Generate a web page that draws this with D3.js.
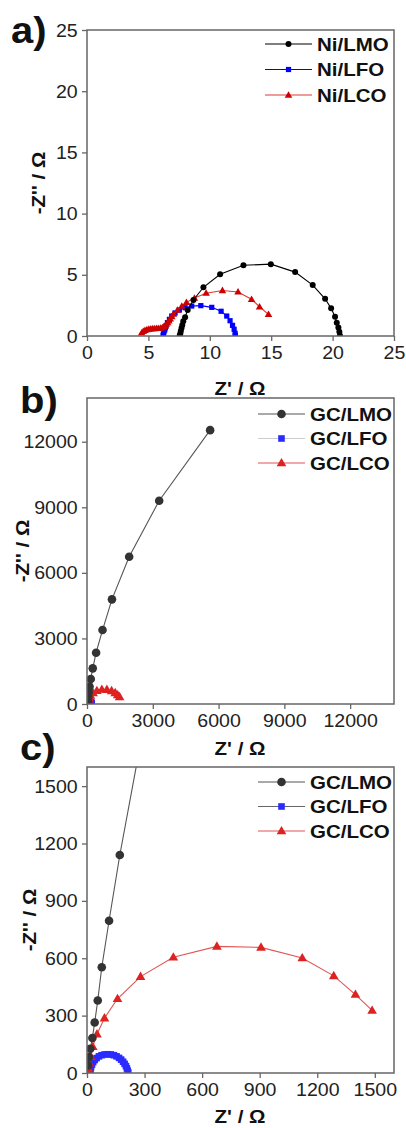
<!DOCTYPE html>
<html><head><meta charset="utf-8">
<script src="https://cdn.jsdelivr.net/npm/d3@7"></script>
<style>body{margin:0;background:#fff}svg{display:block}text{font-family:"Liberation Sans",Arial,sans-serif}</style>
</head><body>
<svg id="c" width="406" height="1128"></svg>
<script>
// ---- data ----
const niLMO = [[7.55,0.05],[7.6,0.2],[7.64,0.4],[7.7,0.65],[7.76,0.9],[7.84,1.2],[7.99,1.53],[8.2,2.12],[8.67,2.94],[9.48,3.98],[10.84,5.04],[12.74,5.78],[14.97,5.87],[16.95,5.22],[18.38,4.16],[19.39,3.04],[19.88,2.26],[20.2,1.58],[20.34,1.09],[20.47,0.7],[20.55,0.35],[20.6,0.05]];
const niLFO = [[6.2,0.05],[6.22,0.16],[6.27,0.33],[6.33,0.49],[6.38,0.66],[6.44,0.82],[6.55,1.09],[6.71,1.36],[6.9,1.63],[7.17,1.88],[7.52,2.12],[7.99,2.31],[8.53,2.45],[9.27,2.48],[10.16,2.34],[10.92,2.02],[11.38,1.63],[11.65,1.25],[11.85,0.87],[11.98,0.55],[12.06,0.22],[12.08,0.05]];
const niLCO = [[4.45,0.25],[4.58,0.38],[4.72,0.46],[4.88,0.52],[5.04,0.56],[5.2,0.58],[5.36,0.6],[5.52,0.61],[5.68,0.62],[5.84,0.63],[6.0,0.65],[6.14,0.68],[6.26,0.74],[6.36,0.84],[6.46,0.97],[6.56,1.1],[6.66,1.24],[6.78,1.4],[6.9,1.58],[7.04,1.8],[7.36,2.12],[7.72,2.45],[8.1,2.75],[8.75,3.1],[9.7,3.5],[11.03,3.72],[12.3,3.6],[13.4,3.0],[14.05,2.39],[14.78,1.77]];
const gcLMO = [[5,40],[10,83],[17,127],[28,183],[40,264],[56,379],[77,553],[115,796],[171,1140],[262,1631],[415,2348],[708,3384],[1138,4787],[1923,6738],[3292,9299],[5615,12530]];
const gcLFO = [[16,5],[18,18],[21,30],[26,44],[32,57],[40,68],[50,78],[62,87],[76,93],[92,97],[108,98],[124,97],[140,93],[154,87],[167,79],[178,70],[188,59],[196,48],[203,36],[208,24],[212,12],[215,3]];
const gcLCO = [[3,5],[5,15],[7,25],[12,51],[21,85],[30,138],[52,203],[91,287],[159,388],[279,504],[450,605],[677,662],[907,657],[1122,601],[1286,508],[1399,410],[1486,327]];
const ticksA = [0,5,10,15,20,25];
const ticksB = [0,3000,6000,9000,12000];
const ticksC = [0,300,600,900,1200,1500];
const legendA = ["Ni/LMO","Ni/LFO","Ni/LCO"];
const legendBC = ["GC/LMO","GC/LFO","GC/LCO"];
const domainA = [0,25], domainB = [0,14000], domainC = [0,1600];

// ---- drawing ----
const svg = d3.select("#c");
const SX = 1.08, SXT = 1.03;
const L = 87, R = 394;

function txt(g, x, y, s, opt) {
  return g.append("text").attr("transform", `translate(${x},${y})${opt.rot?" rotate(-90)":""} scale(${SX},1)`)
    .attr("text-anchor", opt.anchor || "start").attr("font-size", opt.size).attr("font-weight", opt.bold?"bold":"normal")
    .attr("fill", "#111").text(s);
}

function marker(g, type, x, y, size, fill) {
  if (type === "circle") g.append("circle").attr("cx", x).attr("cy", y).attr("r", size).attr("fill", fill);
  else if (type === "square") g.append("rect").attr("x", x-size).attr("y", y-size).attr("width", 2*size).attr("height", 2*size).attr("fill", fill);
  else g.append("path").attr("d", d3.symbol(d3.symbolTriangle, size*size*1.9)()).attr("transform", `translate(${x},${y+0.5})`).attr("fill", fill);
}

let clipId = 0;
function panel(cfg) {
  const top = cfg.top, bot = cfg.top + 306;
  const x = d3.scaleLinear().domain(cfg.domain).range([L, R]);
  const y = d3.scaleLinear().domain(cfg.domain).range([bot, top]);
  const g = svg.append("g");
  const id = "clip" + (clipId++);
  svg.append("clipPath").attr("id", id).append("rect").attr("x", L).attr("y", top).attr("width", R-L).attr("height", bot-top);
  const data = g.append("g").attr("clip-path", `url(#${id})`);
  const line = d3.line().x(d => x(d[0])).y(d => y(d[1]));
  cfg.series.forEach(s => {
    data.append("path").datum(s.data).attr("d", line).attr("fill", "none").attr("stroke", s.line).attr("stroke-width", 1.1);
    s.data.forEach(d => marker(data, s.type, x(d[0]), y(d[1]), s.size, s.fill));
  });
  const fmt = d3.format("d");
  const xa = g.append("g").attr("transform", `translate(0,${bot})`)
    .call(d3.axisBottom(x).tickValues(cfg.ticks).tickFormat(fmt).tickSize(5).tickPadding(5).tickSizeOuter(0));
  const ya = g.append("g").attr("transform", `translate(${L},0)`)
    .call(d3.axisLeft(y).tickValues(cfg.ticks).tickFormat(fmt).tickSize(5).tickPadding(4).tickSizeOuter(0));
  [xa, ya].forEach(a => {
    a.attr("font-size", 19).attr("font-family", '"Liberation Sans",Arial,sans-serif');
    a.select(".domain").remove();
    a.selectAll("line").attr("stroke", "#666").attr("stroke-width", 1.3);
    a.selectAll("text").attr("font-size", 19).attr("fill", "#222").attr("transform", `scale(${SXT},1)`);
  });
  g.append("rect").attr("x", L).attr("y", top).attr("width", R-L).attr("height", bot-top)
    .attr("fill", "none").attr("stroke", "#666").attr("stroke-width", 1.5);
  txt(g, 240, cfg.xtY, "Z' / Ω", {size: 19, bold: true, anchor: "middle"});
  txt(g, cfg.ytX, (top+bot)/2, "-Z'' / Ω", {size: 19, bold: true, anchor: "middle", rot: true});
  txt(g, cfg.lab[1], cfg.lab[2], cfg.lab[0], {size: 37, bold: true});
  cfg.legend.forEach((name, i) => {
    const s = cfg.series[cfg.legendOrder[i]];
    const ry = cfg.legY + i * cfg.legDy;
    g.append("line").attr("x1", cfg.legX).attr("x2", cfg.legX + 47).attr("y1", ry).attr("y2", ry)
      .attr("stroke", s.legLine || s.line).attr("stroke-width", 1.2);
    marker(g, s.type, cfg.legX + 23.5, ry, s.size, s.fill);
    txt(g, cfg.legX + 52, ry + 6.7, name, {size: 19, bold: true});
  });
}

panel({top: 30, domain: domainA, ticks: ticksA, xtY: 395, ytX: 45, lab: ["a)", 11, 43],
  series: [
    {data: niLFO, type: "square", size: 2.6, fill: "#0000ff", line: "#0000ff"},
    {data: niLCO, type: "triangle", size: 3.6, fill: "#cc0000", line: "#e03838"},
    {data: niLMO, type: "circle", size: 3, fill: "#000", line: "#000"}
  ], legend: legendA, legendOrder: [2,0,1], legX: 265, legY: 44, legDy: 25.5});

panel({top: 398, domain: domainB, ticks: ticksB, xtY: 755, ytX: 29, lab: ["b)", 20, 413],
  series: [
    {data: gcLFO, type: "square", size: 3.3, fill: "#2b2bff", line: "#cccccc"},
    {data: gcLCO, type: "triangle", size: 4.6, fill: "#dd2222", line: "#e05555"},
    {data: gcLMO, type: "circle", size: 4.3, fill: "#333", line: "#555"}
  ], legend: legendBC, legendOrder: [2,0,1], legX: 258, legY: 414, legDy: 24.5});

panel({top: 767, domain: domainC, ticks: ticksC, xtY: 1123, ytX: 36, lab: ["c)", 20, 760],
  series: [
    {data: gcLFO, type: "square", size: 3.3, fill: "#2b2bff", line: "#666666"},
    {data: gcLCO, type: "triangle", size: 4.6, fill: "#dd2222", line: "#e05555"},
    {data: gcLMO, type: "circle", size: 4.3, fill: "#333", line: "#555"}
  ], legend: legendBC, legendOrder: [2,0,1], legX: 258, legY: 782, legDy: 24.5});
</script>
</body></html>
